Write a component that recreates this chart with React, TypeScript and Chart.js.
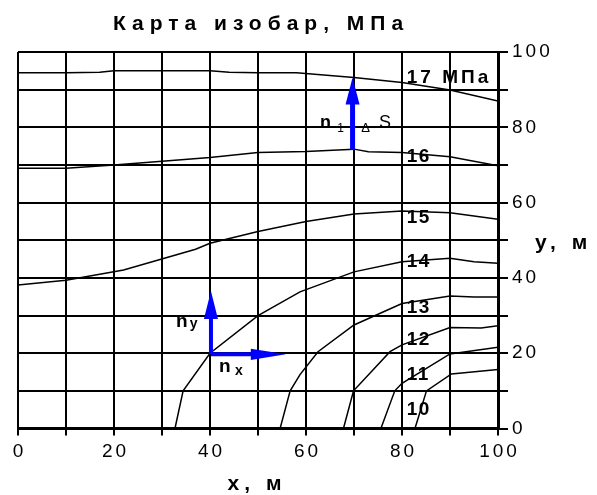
import React, { useEffect, useRef } from 'react';
import { Chart, registerables } from 'chart.js';

Chart.register(...registerables);

const FONT = "'Liberation Sans', Arial, sans-serif";

// tick labels
const xTickLabels = [0, 20, 40, 60, 80, 100];
const yTickLabels = [0, 20, 40, 60, 80, 100];

// isobars [x, y] in metres
const isobar10 = [[82.7, 0], [85.1, 10], [90.3, 14.5], [100, 15.7]];
const isobar11 = [[75.6, 0], [78.5, 10], [80, 12], [90, 19.8], [100, 21.6]];
const isobar12 = [[67.8, 0], [69.9, 10], [77.5, 20.4], [80, 22.2], [90, 26.8], [96.5, 26.7], [100, 27.3]];
const isobar13 = [[54.6, 0], [56.7, 10], [58.75, 14.3], [62.5, 20.4], [70, 27.5], [80, 33.2], [90, 35.2], [95, 34.9], [100, 34.9]];
const isobar14 = [[32.7, 0], [34.4, 10], [40, 20], [50, 30], [58.75, 36.3], [70, 41.6], [80, 44.3], [90, 45.2], [95, 44.3], [100, 43.9]];
const isobar15 = [[0, 38.1], [10, 39.4], [22, 42.1], [37, 47.6], [40, 49.2], [50, 52.3], [60, 55], [70, 57], [80, 57.8], [90, 57.3], [100, 55.6]];
const isobar16 = [[0, 69.1], [10, 69.1], [20, 70], [30, 71], [40, 72], [50, 73.3], [60, 73.6], [70, 74.2], [73, 73.5], [80, 73.3], [90, 72.2], [100, 69.8]];
const isobar17 = [[0, 94.5], [10, 94.5], [17, 94.6], [20, 95], [30, 95], [40, 95], [44, 94.6], [50, 94.5], [58, 94.5], [70, 93.2], [80, 91.9], [90, 89.9], [100, 87]];

const isobars = [isobar10, isobar11, isobar12, isobar13, isobar14, isobar15, isobar16, isobar17];
const isobarLabels = ['10', '11', '12', '13', '14', '15', '16', '17 МПа'];
const isobarLabelX = [81, 81, 81, 81, 81, 81, 81, 81];
const isobarLabelY = [3.6, 12.9, 22.2, 30.6, 43.0, 54.5, 70.9, 91.7];

// vectors: [x tail, y tail, x tip, y tip]
const vectorN1 = [69.7, 74.0, 69.7, 93.2];
const vectorNy = [40.2, 19.7, 40.2, 36.5];
const vectorNx = [40.2, 19.7, 55.8, 19.7];

// vector notes
const noteTexts = ['n', '1', 'Δ', 'S', 'n', 'y', 'n', 'x'];
const noteX = [62.9, 66.5, 71.5, 75.2, 32.9, 35.8, 41.9, 45.2];
const noteY = [79.8, 78.8, 78.8, 79.8, 27.0, 26.6, 15.0, 14.2];

const TITLE = 'Карта изобар, МПа';
const X_TITLE = 'x, м';
const Y_TITLE = 'y, м';

// styles
const BLUE = '#0000ff';
const vectorStyles = [
  { vec: vectorN1, headLen: 27, headHalf: 7, shaft: 5 },
  { vec: vectorNy, headLen: 28, headHalf: 7, shaft: 4 },
  { vec: vectorNx, headLen: 35, headHalf: 5.7, shaft: 4 },
];
const noteFonts = [
  `bold 18px ${FONT}`, `12px ${FONT}`, `13px ${FONT}`, `18px ${FONT}`,
  `bold 19px ${FONT}`, `bold 14px ${FONT}`, `bold 19px ${FONT}`, `bold 14px ${FONT}`,
];

const annotationPlugin = {
  id: 'annotationPlugin',
  beforeDraw(chart: any) {
    (chart.ctx as any).letterSpacing = '3px';
  },
  afterDatasetsDraw(chart: any) {
    const ctx = chart.ctx as any;
    const xs = chart.scales.x;
    const ys = chart.scales.y;
    const area = chart.chartArea;

    // isobar labels
    ctx.save();
    ctx.fillStyle = '#000';
    ctx.textAlign = 'left';
    ctx.textBaseline = 'alphabetic';
    ctx.font = `bold 19px ${FONT}`;
    isobarLabels.forEach((t, i) => {
      ctx.letterSpacing = t.length > 2 ? '3px' : '1.5px';
      ctx.fillText(t, xs.getPixelForValue(isobarLabelX[i]), ys.getPixelForValue(isobarLabelY[i]));
    });
    ctx.restore();

    // vectors
    ctx.save();
    vectorStyles.forEach((s) => {
      const a = s.vec;
      const x0 = xs.getPixelForValue(a[0]);
      const y0 = ys.getPixelForValue(a[1]);
      const x1 = xs.getPixelForValue(a[2]);
      const y1 = ys.getPixelForValue(a[3]);
      const dx = x1 - x0;
      const dy = y1 - y0;
      const len = Math.hypot(dx, dy);
      const ux = dx / len;
      const uy = dy / len;
      const bx = x1 - ux * s.headLen;
      const by = y1 - uy * s.headLen;
      ctx.strokeStyle = BLUE;
      ctx.fillStyle = BLUE;
      ctx.lineWidth = s.shaft;
      ctx.lineCap = 'butt';
      ctx.beginPath();
      ctx.moveTo(x0, y0);
      ctx.lineTo(bx + ux, by + uy);
      ctx.stroke();
      ctx.beginPath();
      ctx.moveTo(x1, y1);
      ctx.lineTo(bx - uy * s.headHalf, by + ux * s.headHalf);
      ctx.lineTo(bx + uy * s.headHalf, by - ux * s.headHalf);
      ctx.closePath();
      ctx.fill();
    });
    ctx.restore();

    // notes
    ctx.save();
    ctx.fillStyle = '#000';
    ctx.textAlign = 'left';
    ctx.textBaseline = 'alphabetic';
    ctx.letterSpacing = '0px';
    noteTexts.forEach((t, i) => {
      ctx.font = noteFonts[i];
      ctx.fillText(t, xs.getPixelForValue(noteX[i]), ys.getPixelForValue(noteY[i]));
    });
    ctx.restore();

    // titles
    ctx.save();
    ctx.fillStyle = '#000';
    ctx.textBaseline = 'alphabetic';
    ctx.font = `bold 21px ${FONT}`;
    ctx.letterSpacing = '6px';
    ctx.textAlign = 'center';
    ctx.fillText(TITLE, (area.left + area.right) / 2 + 3, 30);
    ctx.letterSpacing = '5px';
    ctx.fillText(X_TITLE, (area.left + area.right) / 2 - 1, 490);
    ctx.textAlign = 'left';
    ctx.fillText(Y_TITLE, area.right + 37, 249);
    ctx.restore();
  },
};

export default function App() {
  const ref = useRef<HTMLCanvasElement | null>(null);

  useEffect(() => {
    if (!ref.current) return;
    const datasets = isobars.map((pts, i) => ({
      label: isobarLabels[i],
      data: pts.map((p) => ({ x: p[0], y: p[1] })),
      borderColor: '#000',
      borderWidth: 1.5,
      pointRadius: 0,
      tension: 0,
      fill: false,
    }));
    const chart = new Chart(ref.current, {
      type: 'line',
      data: { datasets },
      plugins: [annotationPlugin],
      options: {
        responsive: false,
        animation: false,
        events: [],
        layout: { padding: { left: 18, top: 52, right: 0, bottom: 0 } },
        plugins: { legend: { display: false }, tooltip: { enabled: false }, title: { display: false } },
        scales: {
          x: {
            type: 'linear',
            position: 'bottom',
            min: 0,
            max: 100,
            afterFit: (s: any) => { s.height = 66.5; },
            ticks: {
              stepSize: 10,
              autoSkip: false,
              maxRotation: 0,
              padding: 5,
              labelOffset: 1.5,
              color: '#000',
              font: { family: FONT, size: 19 },
              callback: (v: any) => (xTickLabels.includes(Number(v)) ? String(v) : ''),
            },
            grid: { color: '#000', lineWidth: 2, tickLength: 7, drawTicks: true },
            border: { color: '#000', width: 3 },
          },
          y: {
            type: 'linear',
            position: 'right',
            min: 0,
            max: 100,
            afterFit: (s: any) => { s.width = 99; },
            ticks: {
              stepSize: 10,
              autoSkip: false,
              padding: 4,
              color: '#000',
              font: { family: FONT, size: 19 },
              callback: (v: any) => (yTickLabels.includes(Number(v)) ? String(v) : ''),
            },
            grid: { color: '#000', lineWidth: 2, tickLength: 10, drawTicks: true },
            border: { color: '#000', width: 3 },
          },
        },
      },
    } as any);
    return () => chart.destroy();
  }, []);

  return (
    <div style={{ position: 'absolute', left: 0, top: 0, width: 597, height: 495, background: '#fff' }}>
      <canvas ref={ref} width={597} height={495} style={{ display: 'block' }} />
    </div>
  );
}
